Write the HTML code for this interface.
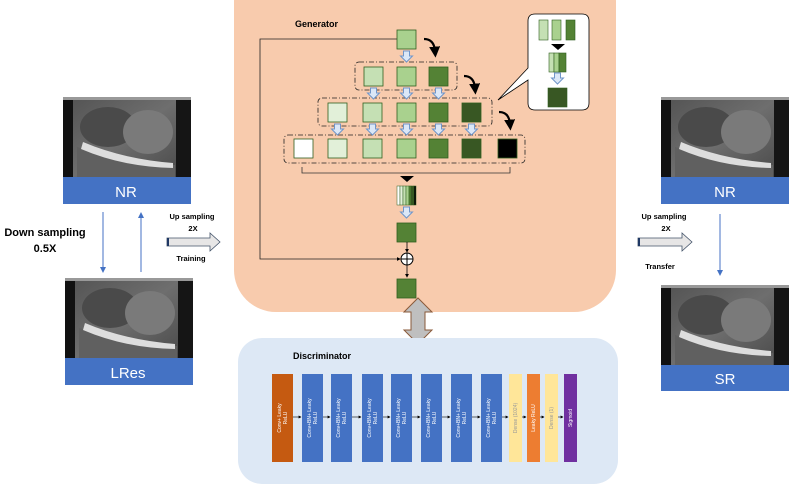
<!DOCTYPE html>
<html><head><meta charset="utf-8"><style>
body{margin:0;background:#fff;}
svg{display:block;font-family:"Liberation Sans",sans-serif;}
</style></head><body>
<svg width="789" height="484" viewBox="0 0 789 484" xmlns="http://www.w3.org/2000/svg">
<defs>
<linearGradient id="us" x1="0" y1="0" x2="1" y2="1">
<stop offset="0" stop-color="#555"/><stop offset="0.5" stop-color="#6e6e6e"/><stop offset="1" stop-color="#4a4a4a"/></linearGradient>
<g id="usimg">
<rect x="0" y="0" width="128" height="80" fill="#111"/>
<rect x="10" y="3" width="104" height="77" fill="url(#us)"/>
<ellipse cx="45" cy="30" rx="28" ry="20" fill="#4a4a4a"/>
<ellipse cx="85" cy="35" rx="25" ry="22" fill="#7a7a7a"/>
<path d="M14 50 Q60 66 112 68 L112 80 L14 80Z" fill="#606060"/>
<path d="M20 45 Q60 62 110 66 L110 71 Q60 70 18 52Z" fill="#ddd"/>
<rect x="113" y="3" width="15" height="77" fill="#151515"/>
<rect x="0" y="0" width="128" height="3" fill="#999"/>
</g>
<marker id="ab" markerWidth="6" markerHeight="6" refX="5" refY="3" orient="auto"><path d="M0,0 L6,3 L0,6Z" fill="#4472c4"/></marker>
<marker id="ak" markerWidth="5" markerHeight="5" refX="4" refY="2.5" orient="auto"><path d="M0,0 L5,2.5 L0,5Z" fill="#000"/></marker>
<marker id="ac" markerWidth="5" markerHeight="5" refX="2" refY="2.5" orient="auto"><path d="M0,0 L5,2.5 L0,5Z" fill="#000"/></marker>
<g id="da"><path d="M-3,0 h6 v5 h3 l-6,6 l-6,-6 h3z" fill="#dbe7f7" stroke="#6f95c9" stroke-width="1"/></g>
<g id="curl"><path d="M0,0 Q10,0 11,12" fill="none" stroke="#000" stroke-width="2.2" marker-end="url(#ac)"/></g>
</defs>

<rect x="234" y="-40" width="382" height="352" rx="42" fill="#f8cbad"/>
<text x="295" y="27" font-size="9" font-weight="bold">Generator</text>
<path d="M397,39 H260 V259 H400" fill="none" stroke="#222" stroke-width="0.8" marker-end="url(#ak)"/>
<g fill="none" stroke="#222" stroke-width="0.8" stroke-dasharray="5,2,1,2">
<rect x="355" y="62" width="102" height="28" rx="4"/>
<rect x="318" y="98" width="174" height="28" rx="4"/>
<rect x="284" y="135" width="241" height="28" rx="4"/>
</g>
<g stroke="#2f5e1e" stroke-width="0.8">
<rect x="397" y="30" width="19" height="19" fill="#a9d18e"/>
<rect x="364" y="67" width="19" height="19" fill="#c5e0b4"/>
<rect x="397" y="67" width="19" height="19" fill="#a9d18e"/>
<rect x="429" y="67" width="19" height="19" fill="#548235"/>
<rect x="328" y="103" width="19" height="19" fill="#e2f0d9"/>
<rect x="363" y="103" width="19" height="19" fill="#c5e0b4"/>
<rect x="397" y="103" width="19" height="19" fill="#a9d18e"/>
<rect x="429" y="103" width="19" height="19" fill="#548235"/>
<rect x="462" y="103" width="19" height="19" fill="#385723"/>
<rect x="294" y="139" width="19" height="19" fill="#ffffff"/>
<rect x="328" y="139" width="19" height="19" fill="#e2f0d9"/>
<rect x="363" y="139" width="19" height="19" fill="#c5e0b4"/>
<rect x="397" y="139" width="19" height="19" fill="#a9d18e"/>
<rect x="429" y="139" width="19" height="19" fill="#548235"/>
<rect x="462" y="139" width="19" height="19" fill="#385723"/>
<rect x="498" y="139" width="19" height="19" fill="#000"/>
<rect x="397" y="223" width="19" height="19" fill="#548235"/>
<rect x="397" y="279" width="19" height="19" fill="#548235"/>
</g>
<g stroke="#2f5e1e" stroke-width="0.5">
<rect x="397" y="186" width="3" height="19" fill="#fff"/><rect x="400" y="186" width="3" height="19" fill="#e2f0d9"/>
<rect x="403" y="186" width="3" height="19" fill="#c5e0b4"/><rect x="406" y="186" width="3" height="19" fill="#a9d18e"/>
<rect x="409" y="186" width="2" height="19" fill="#548235"/><rect x="411" y="186" width="3" height="19" fill="#385723"/>
<rect x="414" y="186" width="2" height="19" fill="#000"/></g>
<use href="#da" x="406.5" y="51"/>
<use href="#da" x="373.5" y="88"/><use href="#da" x="406.5" y="88"/><use href="#da" x="438.5" y="88"/>
<use href="#da" x="337.5" y="124"/><use href="#da" x="372.5" y="124"/><use href="#da" x="406.5" y="124"/><use href="#da" x="438.5" y="124"/><use href="#da" x="471.5" y="124"/>
<use href="#da" x="406.5" y="207"/>
<use href="#curl" x="424" y="39"/>
<use href="#curl" x="464" y="76"/>
<use href="#curl" x="499" y="112"/>
<path d="M302,167 V173 H510 V167" fill="none" stroke="#333" stroke-width="0.8"/>
<path d="M400,176 H414 L407,182Z" fill="#000"/>
<line x1="407" y1="242" x2="407" y2="252" stroke="#000" stroke-width="0.8" marker-end="url(#ak)"/>
<circle cx="407" cy="259" r="6" fill="#fff" stroke="#000"/>
<path d="M401,259 H413 M407,253 V265" stroke="#000"/>
<line x1="407" y1="265" x2="407" y2="277" stroke="#000" stroke-width="0.8" marker-end="url(#ak)"/>
<path d="M535,14 H582 Q589,14 589,21 V103 Q589,110 582,110 H535 Q528,110 528,103 V80 L498,100 L528,68 V21 Q528,14 535,14Z" fill="#fff" stroke="#000" stroke-width="0.8"/>
<g stroke="#2f5e1e" stroke-width="0.6">
<rect x="539" y="20" width="9" height="20" fill="#c5e0b4"/><rect x="552" y="20" width="9" height="20" fill="#a9d18e"/><rect x="566" y="20" width="9" height="20" fill="#548235"/>
<rect x="549" y="53" width="5" height="19" fill="#c5e0b4"/><rect x="554" y="53" width="5" height="19" fill="#a9d18e"/><rect x="559" y="53" width="7" height="19" fill="#548235"/>
<rect x="548" y="88" width="19" height="19" fill="#385723"/></g>
<path d="M551,44 H565 L558,50Z" fill="#000"/>
<use href="#da" x="557.5" y="73"/>

<path d="M418,298 L432,312 H425 V330 H432 L418,344 L404,330 H411 V312 H404Z" fill="#bfbfbf" stroke="#8a5a3a" stroke-width="1"/>

<rect x="238" y="338" width="380" height="146" rx="24" fill="#dde8f5"/>
<text x="293" y="359" font-size="9" font-weight="bold">Discriminator</text>
<g>
<rect x="272" y="374" width="21" height="88" fill="#c55a11"/>
<rect x="302" y="374" width="21" height="88" fill="#4472c4"/>
<rect x="331" y="374" width="21" height="88" fill="#4472c4"/>
<rect x="362" y="374" width="21" height="88" fill="#4472c4"/>
<rect x="391" y="374" width="21" height="88" fill="#4472c4"/>
<rect x="421" y="374" width="21" height="88" fill="#4472c4"/>
<rect x="451" y="374" width="21" height="88" fill="#4472c4"/>
<rect x="481" y="374" width="21" height="88" fill="#4472c4"/>
<rect x="509" y="374" width="13" height="88" fill="#ffe699"/>
<rect x="527" y="374" width="13" height="88" fill="#ed7d31"/>
<rect x="545" y="374" width="13" height="88" fill="#ffe699"/>
<rect x="564" y="374" width="13" height="88" fill="#7030a0"/>
</g>
<g stroke="#000" stroke-width="0.6" marker-end="url(#ak)">
<line x1="293" y1="417" x2="301" y2="417"/><line x1="323" y1="417" x2="330" y2="417"/>
<line x1="352" y1="417" x2="361" y2="417"/><line x1="383" y1="417" x2="390" y2="417"/>
<line x1="412" y1="417" x2="420" y2="417"/><line x1="442" y1="417" x2="450" y2="417"/>
<line x1="472" y1="417" x2="480" y2="417"/><line x1="502" y1="417" x2="508" y2="417"/>
<line x1="522" y1="417" x2="526" y2="417"/><line x1="540" y1="417" x2="544" y2="417"/>
<line x1="558" y1="417" x2="563" y2="417"/></g>
<g font-size="5" fill="#fff" text-anchor="middle">
<text transform="translate(281,418) rotate(-90)">Conv+ Leaky</text><text transform="translate(287,418) rotate(-90)">ReLU</text>
<text transform="translate(311,418) rotate(-90)">Conv+BN+ Leaky</text><text transform="translate(317,418) rotate(-90)">ReLU</text>
<text transform="translate(340,418) rotate(-90)">Conv+BN+ Leaky</text><text transform="translate(346,418) rotate(-90)">ReLU</text>
<text transform="translate(371,418) rotate(-90)">Conv+BN+ Leaky</text><text transform="translate(377,418) rotate(-90)">ReLU</text>
<text transform="translate(400,418) rotate(-90)">Conv+BN+ Leaky</text><text transform="translate(406,418) rotate(-90)">ReLU</text>
<text transform="translate(430,418) rotate(-90)">Conv+BN+ Leaky</text><text transform="translate(436,418) rotate(-90)">ReLU</text>
<text transform="translate(460,418) rotate(-90)">Conv+BN+ Leaky</text><text transform="translate(466,418) rotate(-90)">ReLU</text>
<text transform="translate(490,418) rotate(-90)">Conv+BN+ Leaky</text><text transform="translate(496,418) rotate(-90)">ReLU</text>
<text transform="translate(517,418) rotate(-90)" fill="#999">Dense (1024)</text>
<text transform="translate(535,418) rotate(-90)">Leaky ReLU</text>
<text transform="translate(553,418) rotate(-90)" fill="#999">Dense (1)</text>
<text transform="translate(572,418) rotate(-90)">Sigmoid</text>
</g>

<use href="#usimg" x="63" y="97"/>
<rect x="63" y="177" width="128" height="27" fill="#4472c4"/>
<text x="126" y="197" font-size="15" fill="#fff" text-anchor="middle">NR</text>
<use href="#usimg" x="65" y="278"/>
<rect x="65" y="358" width="128" height="27" fill="#4472c4"/>
<text x="128" y="378" font-size="15" fill="#fff" text-anchor="middle">LRes</text>
<line x1="103" y1="212" x2="103" y2="272" stroke="#4472c4" marker-end="url(#ab)"/>
<line x1="141" y1="272" x2="141" y2="213" stroke="#4472c4" marker-end="url(#ab)"/>
<text x="45" y="236" font-size="11" font-weight="bold" text-anchor="middle">Down sampling</text>
<text x="45" y="252" font-size="11" font-weight="bold" text-anchor="middle">0.5X</text>
<text x="192" y="219" font-size="7.5" font-weight="bold" text-anchor="middle">Up sampling</text>
<text x="193" y="231" font-size="7.5" font-weight="bold" text-anchor="middle">2X</text>
<path d="M167,238 H210 V233 L220,242 L210,251 V246 H167Z" fill="#e7e6e6" stroke="#44546a" stroke-width="0.8"/>
<rect x="167" y="238" width="2" height="8" fill="#1f3864"/>
<text x="191" y="261" font-size="7.5" font-weight="bold" text-anchor="middle">Training</text>

<use href="#usimg" x="661" y="97"/>
<rect x="661" y="177" width="128" height="27" fill="#4472c4"/>
<text x="725" y="197" font-size="15" fill="#fff" text-anchor="middle">NR</text>
<use href="#usimg" x="661" y="285"/>
<rect x="661" y="365" width="128" height="26" fill="#4472c4"/>
<text x="725" y="384" font-size="15" fill="#fff" text-anchor="middle">SR</text>
<line x1="720" y1="214" x2="720" y2="275" stroke="#4472c4" marker-end="url(#ab)"/>
<text x="664" y="219" font-size="7.5" font-weight="bold" text-anchor="middle">Up sampling</text>
<text x="666" y="231" font-size="7.5" font-weight="bold" text-anchor="middle">2X</text>
<path d="M638,238 H682 V233 L692,242 L682,251 V246 H638Z" fill="#e7e6e6" stroke="#44546a" stroke-width="0.8"/>
<rect x="638" y="238" width="2" height="8" fill="#1f3864"/>
<text x="660" y="269" font-size="7.5" font-weight="bold" text-anchor="middle">Transfer</text>
</svg>
</body></html>
